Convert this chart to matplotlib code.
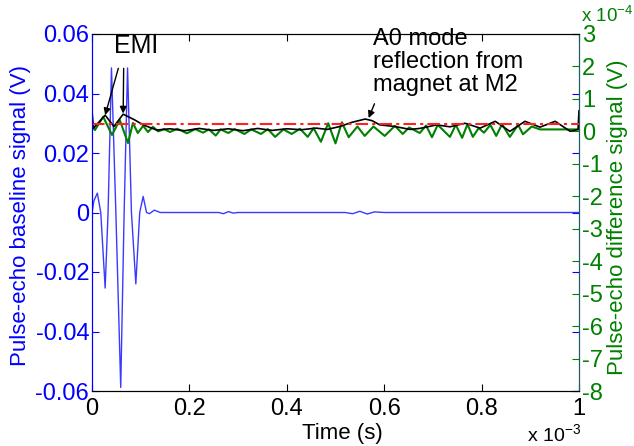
import matplotlib
matplotlib.use("Agg")
import matplotlib.pyplot as plt

plt.rcParams['font.family'] = ['Liberation Sans', 'DejaVu Sans']
plt.rcParams['axes.unicode_minus'] = False
plt.rcParams['mathtext.fontset'] = 'custom'
plt.rcParams['mathtext.rm'] = 'Liberation Sans'
plt.rcParams['mathtext.it'] = 'Liberation Sans'
plt.rcParams['mathtext.default'] = 'rm'

# ---- data (time in ms, i.e. x 10^-3 s) ----
# baseline signal (V), left axis
blue_t = [0.0, 0.004, 0.011, 0.018, 0.027, 0.033, 0.040, 0.049, 0.059, 0.066, 0.073,
          0.081, 0.090, 0.098, 0.105, 0.112, 0.118, 0.128, 0.140, 0.26, 0.27, 0.28,
          0.29, 0.30, 0.52, 0.535, 0.55, 0.565, 0.58, 0.60, 1.0]
blue_v = [0.0, 0.004, 0.0065, 0.0, -0.0254, 0.0, 0.0486, 0.0, -0.0588, 0.0, 0.0486,
          0.0, -0.024, 0.0, 0.0054, 0.0, -0.0004, 0.0008, 0.0, 0.0, -0.0004, 0.0003,
          -0.0002, 0.0, 0.0, -0.0004, 0.0004, -0.0005, 0.0002, 0.0, 0.0]

# difference signal (x 10^-4 V), right axis
green_t = [0.0, 0.006, 0.023, 0.041, 0.057, 0.074, 0.084, 0.094, 0.105, 0.115, 0.125,
           0.136, 0.148, 0.160, 0.175, 0.195, 0.212, 0.228, 0.240, 0.254, 0.264,
           0.280, 0.293, 0.313, 0.327, 0.347, 0.361, 0.376, 0.393, 0.410, 0.427,
           0.443, 0.455, 0.470, 0.485, 0.500, 0.513, 0.527, 0.545, 0.560, 0.578,
           0.601, 0.622, 0.638, 0.651, 0.673, 0.686, 0.698, 0.710, 0.735, 0.747,
           0.760, 0.771, 0.782, 0.794, 0.805, 0.818, 0.830, 0.842, 0.858, 0.875,
           0.885, 0.903, 0.920, 0.937, 0.952, 0.968, 0.985, 1.0]
green_v = [0.14, 0.04, 0.45, -0.11, 0.35, -0.36, 0.26, -0.05, 0.17, -0.02, 0.14,
           0.0, 0.07, -0.02, 0.08, -0.06, 0.07, -0.04, 0.06, -0.13, 0.06, -0.05,
           0.07, -0.08, 0.06, -0.08, 0.07, -0.17, 0.06, -0.08, 0.08, -0.17, 0.10,
           -0.32, 0.25, -0.37, 0.28, -0.18, 0.15, -0.14, 0.15, -0.14, 0.17, -0.08,
           0.12, -0.05, 0.18, -0.18, 0.20, -0.17, 0.20, -0.20, 0.22, -0.17, 0.10,
           -0.04, 0.20, -0.14, 0.22, -0.17, 0.20, -0.09, 0.15, 0.06, 0.06, 0.06,
           0.06, 0.06, 0.06]

# envelope (x 10^-4 V), right axis
env_t = [0.0, 0.003, 0.027, 0.045, 0.064, 0.088, 0.105, 0.133, 0.16, 0.19, 0.22,
         0.25, 0.28, 0.31, 0.34, 0.37, 0.40, 0.43, 0.46, 0.483, 0.509, 0.534, 0.561,
         0.575, 0.591, 0.622, 0.653, 0.673, 0.708, 0.735, 0.766, 0.797, 0.828,
         0.858, 0.889, 0.920, 0.951, 0.982, 0.998, 1.0]
env_v = [0.63, 0.10, 0.50, 0.15, 0.53, 0.35, 0.20, 0.04, 0.08, 0.02, 0.09,
         0.03, 0.08, 0.02, 0.09, 0.03, 0.08, 0.05, 0.10, 0.06, 0.15, 0.28, 0.38,
         0.33, 0.20, 0.15, 0.06, 0.09, 0.20, 0.14, 0.25, 0.10, 0.31,
         0.0, 0.31, 0.13, 0.31, 0.0, 0.06, 0.63]

threshold = 0.23  # x 10^-4 V

left_ticks = [-0.06, -0.04, -0.02, 0, 0.02, 0.04, 0.06]
left_labels = ['-0.06', '-0.04', '-0.02', '0', '0.02', '0.04', '0.06']
right_ticks = [-8, -7, -6, -5, -4, -3, -2, -1, 0, 1, 2, 3]
x_ticks = [0, 0.2, 0.4, 0.6, 0.8, 1]
x_labels = ['0', '0.2', '0.4', '0.6', '0.8', '1']

BLUE = '#0000ff'
LBLUE = '#3a3aff'
GREEN = '#008000'

W, H = 634, 446
fig = plt.figure(figsize=(W / 100, H / 100), dpi=100)
L, R, T, B = 92, 579, 34, 391
ax = fig.add_axes([L / W, 1 - B / H, (R - L) / W, (B - T) / H])
ax2 = ax.twinx()

ax.plot(blue_t, blue_v, color=LBLUE, lw=1.0)
ax2.plot(green_t, green_v, color=GREEN, lw=1.5, solid_joinstyle='round')
ax2.plot(env_t, env_v, color='black', lw=1.2, solid_joinstyle='round')
ax2.plot([0, 1], [threshold, threshold], color='#ff2020', lw=1.5,
         linestyle=(0, (6, 2, 1.5, 2)))

ax.set_xlim(0, 1)
ax.set_ylim(-0.06, 0.06)
ax2.set_ylim(-8, 3)

fs = 17
lfs = 16
ax.set_xticks(x_ticks)
ax.set_xticklabels(x_labels, fontsize=fs)
ax.set_yticks(left_ticks)
ax.set_yticklabels(left_labels, fontsize=fs, color=BLUE)
ax2.set_yticks(right_ticks)
ax2.set_yticklabels([str(v) for v in right_ticks], fontsize=fs, color=GREEN)

ax.tick_params(axis='x', direction='in', top=True, length=5, width=0.8, pad=5)
ax.tick_params(axis='y', direction='in', right=True, length=5, width=0.8,
               colors=BLUE, pad=2)
ax2.tick_params(axis='y', direction='in', length=5, width=0.8, colors=GREEN, pad=2)
for lab in ax2.get_yticklabels():
    lab.set_color(GREEN)

ax.spines['left'].set_color(BLUE)
ax.spines['bottom'].set_color('black')
ax.spines['top'].set_color('black')
ax2.spines['left'].set_color(BLUE)
ax2.spines['right'].set_color('#1f5a6a')
ax.spines['right'].set_color('#1f5a6a')

fig.text(342 / W, 1 - 433 / H, 'Time (s)', fontsize=lfs, ha='center', va='center')
fig.text(21 / W, 1 - 215 / H, 'Pulse-echo baseline signal (V)', rotation=90,
         color=BLUE, fontsize=lfs, ha='center', va='center')
fig.text(617 / W, 1 - 217 / H, 'Pulse-echo difference signal (V)', rotation=90,
         color=GREEN, fontsize=lfs, ha='center', va='center')

# multipliers
fig.text(581 / W, 1 - 22 / H, r'x 10$^{-4}$', color=GREEN, fontsize=13.5,
         ha='left', va='baseline')
fig.text(527 / W, 1 - 441 / H, r'x 10$^{-3}$', color='black', fontsize=14,
         ha='left', va='baseline')

# annotations (in right-axis data coords)
ax2.text(0.045, 2.63, 'EMI', fontsize=18, ha='left', va='center', zorder=5)
ax2.annotate('', xy=(0.027, 0.5), xytext=(0.054, 1.94),
             arrowprops=dict(arrowstyle='-|>', color='black', lw=1.0,
                             mutation_scale=10, shrinkA=0, shrinkB=0))
ax2.annotate('', xy=(0.064, 0.55), xytext=(0.065, 1.94),
             arrowprops=dict(arrowstyle='-|>', color='black', lw=1.0,
                             mutation_scale=10, shrinkA=0, shrinkB=0))
ax2.text(0.577, 2.13, 'A0 mode\nreflection from\nmagnet at M2', fontsize=17,
         ha='left', va='center', linespacing=1.07, zorder=5)
ax2.annotate('', xy=(0.568, 0.41), xytext=(0.580, 0.85),
             arrowprops=dict(arrowstyle='-|>', color='black', lw=1.0,
                             mutation_scale=10, shrinkA=0, shrinkB=0))

fig.savefig('out.png', dpi=100)
